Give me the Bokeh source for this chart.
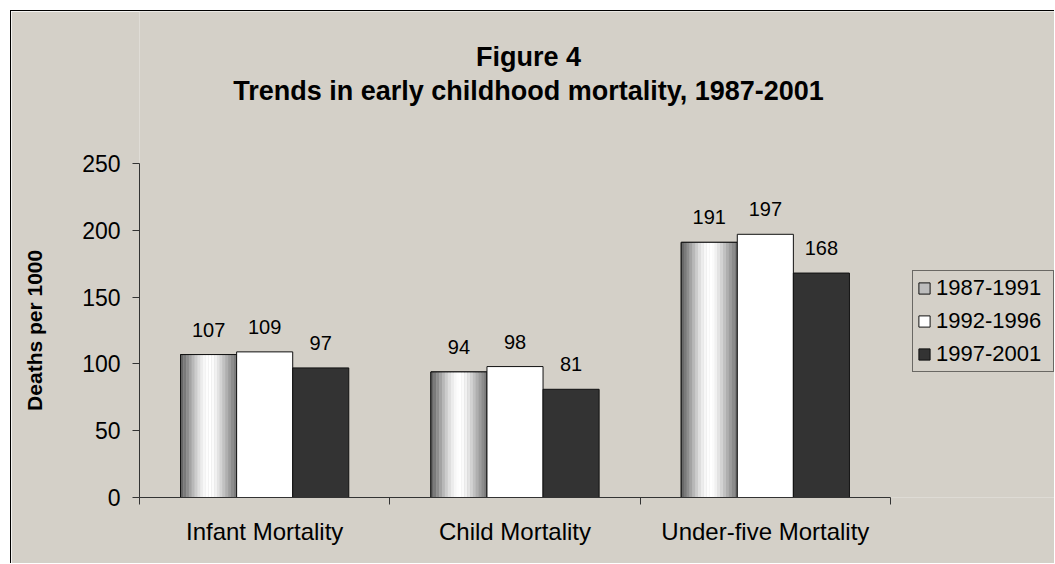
from bokeh.plotting import figure
from bokeh.models import (Range1d, FixedTicker, ColumnDataSource, Legend, LegendItem, Label)
from bokeh.transform import dodge
from bokeh.core.properties import value
from bokeh.embed import file_html
from bokeh.resources import INLINE

# ---- data ----
categories = ["Infant Mortality", "Child Mortality", "Under-five Mortality"]
series_names = ["1987-1991", "1992-1996", "1997-2001"]
s1987 = [107, 94, 191]
s1992 = [109, 98, 197]
s1997 = [97, 81, 168]
y_ticks = [0, 50, 100, 150, 200, 250]
title_lines = ["Figure 4", "Trends in early childhood mortality, 1987-2001"]
y_title = "Deaths per 1000"

# ---- styles / geometry ----
BG = "#d4d0c8"
FONT = "Liberation Sans"
BAR_W = 0.224
W, H = 1044, 553
LEFT, BOTTOM = 128, 67           # space for the axes
AXIS_W, AXIS_H = 751, 334         # pixel length of the drawn axes
FRAME_W, FRAME_H = W - LEFT, H - BOTTOM
shade = ["#686868", "#7a7a7a", "#8e8e8e", "#a3a3a3", "#b8b8b8", "#cccccc",
         "#dedede", "#ececec", "#f7f7f7", "#fdfdfd", "#ffffff", "#fbfbfb",
         "#f1f1f1", "#e3e3e3", "#d3d3d3", "#c1c1c1", "#afafaf", "#9d9d9d",
         "#8c8c8c", "#7c7c7c"]

ncat = len(categories)
xc = [i + 0.5 for i in range(ncat)]
src = ColumnDataSource(dict(x=xc, a=s1987, b=s1992, c=s1997,
                            la=[str(v) for v in s1987],
                            lb=[str(v) for v in s1992],
                            lc=[str(v) for v in s1997]))

ymax = y_ticks[-1]
p = figure(width=W, height=H,
           x_range=Range1d(0, ncat * FRAME_W / AXIS_W),
           y_range=Range1d(0, ymax * FRAME_H / AXIS_H),
           output_backend="svg", toolbar_location=None,
           min_border_left=LEFT, min_border_right=0, min_border_top=0,
           min_border_bottom=BOTTOM,
           background_fill_color=BG, border_fill_color=BG,
           outline_line_color=None,
           styles={"border-left": "1px solid black", "border-top": "1px solid black",
                   "margin-left": "10px", "margin-top": "10px"})
p.xgrid.visible = False
p.ygrid.visible = False

# series 1: shaded cylinder-like bars made of strips
offs = [-BAR_W, 0.0, BAR_W]
base1 = p.vbar(x=dodge("x", offs[0], range=p.x_range), top="a", width=BAR_W,
               source=src, fill_color="#bdbdbd", line_color="#111111")
n = len(shade)
for k, col in enumerate(shade):
    d = offs[0] - BAR_W / 2 + (k + 0.5) * BAR_W / n
    p.vbar(x=dodge("x", d, range=p.x_range), top="a", width=BAR_W / n * 1.05,
           source=src, fill_color=col, line_color=None)
p.vbar(x=dodge("x", offs[0], range=p.x_range), top="a", width=BAR_W,
       source=src, fill_alpha=0, line_color="#111111", line_width=1)
r2 = p.vbar(x=dodge("x", offs[1], range=p.x_range), top="b", width=BAR_W,
            source=src, fill_color="#ffffff", line_color="#111111", line_width=1)
r3 = p.vbar(x=dodge("x", offs[2], range=p.x_range), top="c", width=BAR_W,
            source=src, fill_color="#333333", line_color="#111111", line_width=1)

for o, col_v, col_l in zip(offs, ["a", "b", "c"], ["la", "lb", "lc"]):
    p.text(x=dodge("x", o, range=p.x_range), y=col_v, text=col_l, source=src,
           text_align="center", text_baseline="alphabetic", y_offset=-25,
           text_font=value(FONT), text_font_size="20px", text_color="#000000")

# axes
xa = p.xaxis[0]
xa.bounds = (0, ncat)
xa.ticker = FixedTicker(ticks=xc, minor_ticks=list(range(ncat + 1)))
xa.major_label_overrides = {x: c for x, c in zip(xc, categories)}
xa.major_tick_out = 0
xa.major_tick_in = 0
xa.minor_tick_out = 7
xa.minor_tick_in = 0
xa.minor_tick_line_color = "#333333"
xa.axis_line_color = "#333333"
xa.major_label_text_font = FONT
xa.major_label_text_font_size = "24px"
xa.major_label_text_color = "#000000"
xa.major_label_standoff = 13

ya = p.yaxis[0]
ya.bounds = (y_ticks[0], ymax)
ya.ticker = FixedTicker(ticks=y_ticks)
ya.major_tick_out = 7
ya.major_tick_in = 0
ya.minor_tick_out = 0
ya.minor_tick_in = 0
ya.major_tick_line_color = "#333333"
ya.axis_line_color = "#333333"
ya.major_label_text_font = FONT
ya.major_label_text_font_size = "23px"
ya.major_label_text_color = "#000000"
ya.major_label_standoff = 12
# the label is centred on the whole frame height; pad its end with
# no-break spaces so that the visible words sit beside the 0-250 axis
ya.axis_label = y_title + "\u00a0" * 26
ya.axis_label_text_font = FONT
ya.axis_label_text_font_size = "21px"
ya.axis_label_text_font_style = "bold"
ya.axis_label_text_color = "#000000"
ya.axis_label_standoff = 33

# titles (screen units, measured from the frame's bottom-left)
for txt, yy in zip(title_lines, [441, 407]):
    p.add_layout(Label(x=389, y=yy, x_units="screen", y_units="screen", text=txt,
                       text_align="center", text_baseline="alphabetic",
                       text_font=FONT, text_font_size="27px", text_font_style="bold",
                       text_color="#000000"))

legend = Legend(items=[LegendItem(label=series_names[0], renderers=[base1]),
                       LegendItem(label=series_names[1], renderers=[r2]),
                       LegendItem(label=series_names[2], renderers=[r3])],
                location=(773, 125), margin=0, padding=4, spacing=7,
                glyph_width=14, glyph_height=14, label_height=20,
                label_width=113, label_standoff=5, label_text_font=FONT,
                label_text_font_size="22px", label_text_color="#000000",
                background_fill_color=BG, background_fill_alpha=1,
                border_line_color="#000000", border_line_width=1)
p.add_layout(legend)

open("out.html", "w").write(file_html(p, INLINE))
